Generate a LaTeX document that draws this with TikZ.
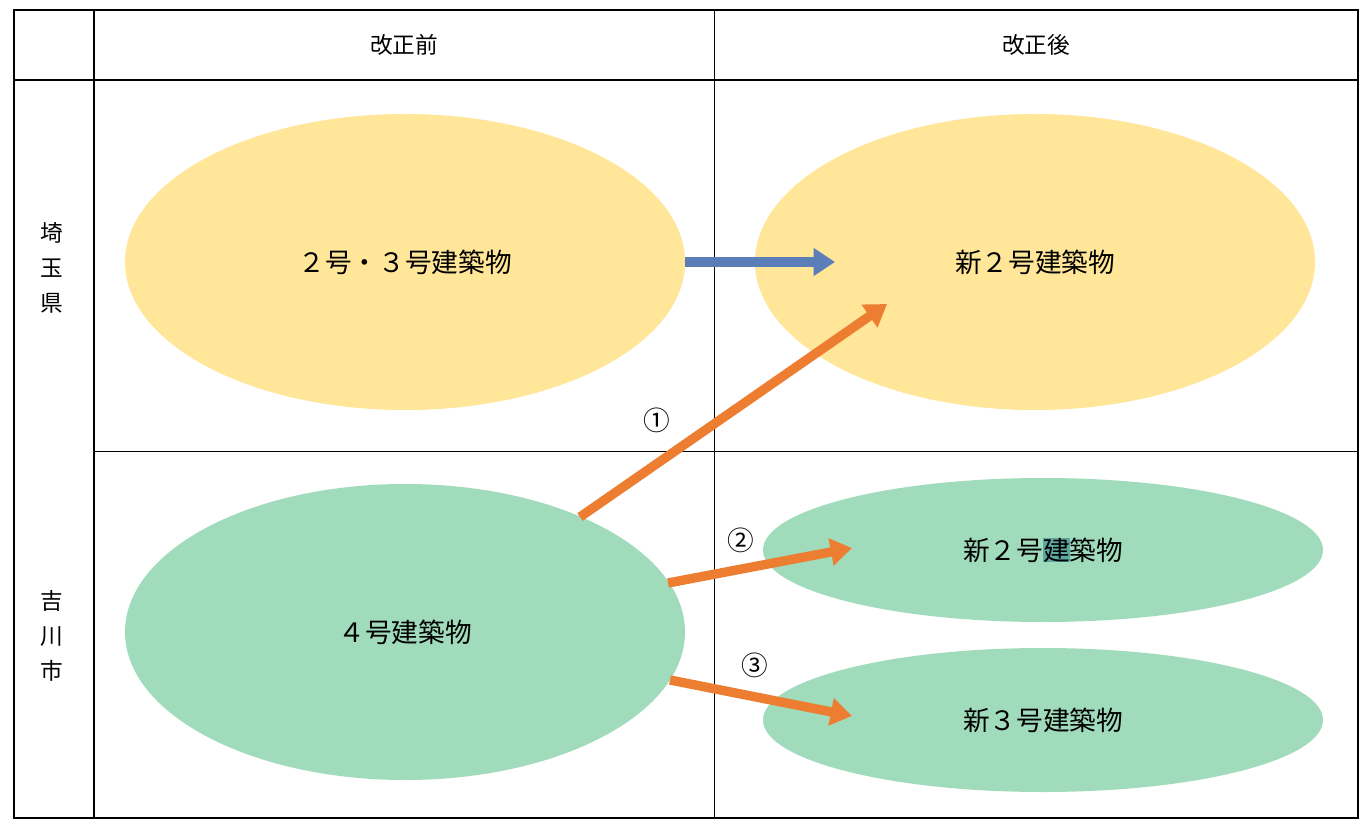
\documentclass[tikz,border=0pt]{standalone}
\usepackage{fontspec}
\setmainfont{Noto Sans CJK JP}
\usetikzlibrary{arrows.meta,shapes.geometric}
\definecolor{yel}{HTML}{FFE699}
\definecolor{grn}{HTML}{A0DCBB}
\definecolor{blu}{HTML}{5B7DB8}
\definecolor{org}{HTML}{ED7D31}
\definecolor{hl}{HTML}{5EA8A2}
\begin{document}
\begin{tikzpicture}[x=0.75pt,y=-0.75pt,
  yel/.style={ellipse,fill=yel,minimum width=560*0.75pt,minimum height=296*0.75pt,inner sep=0pt},
  grnbig/.style={ellipse,fill=grn,minimum width=560*0.75pt,minimum height=296*0.75pt,inner sep=0pt},
  grnsm/.style={ellipse,fill=grn,minimum width=560*0.75pt,minimum height=144*0.75pt,inner sep=0pt},
  lbl/.style={font=\fontsize{20}{24}\selectfont},
  hdr/.style={font=\fontsize{17}{20}\selectfont},
  arr/.style={line width=7pt,-{Triangle[length=16pt,width=20pt]}}]
\useasboundingbox (0,0) rectangle (1370,830);
\fill[white] (0,0) rectangle (1370,830);
\node[yel] (a) at (405,262) {}; \node[lbl] at (a) {２号・３号建築物};
\node[yel] (b) at (1035,262) {}; \node[lbl] at (b) {新２号建築物};
\node[grnbig] (c) at (405,632) {}; \node[lbl] at (c) {４号建築物};
\node[grnsm] (d) at (1043,550) {}; \node[lbl] at (d) {新２号{\setlength\fboxsep{0pt}\colorbox{hl}{建}}築物};
\node[grnsm] (e) at (1043,720) {}; \node[lbl] at (e) {新３号建築物};
% grid
\draw[line width=0.6pt] (714,10) -- (714,818);
\draw[line width=0.6pt] (94,451) -- (1358,451);
\draw[line width=2.2pt] (94,10) -- (94,818);
\draw[line width=2.2pt] (14,80) -- (1358,80);
\draw[line width=2.2pt] (14,10) rectangle (1358,818);
\node[hdr] at (404,45) {改正前};
\node[hdr] at (1036,45) {改正後};
\node[hdr,align=center,font=\fontsize{17}{26}\selectfont] at (52,268) {埼\\玉\\県};
\node[hdr,align=center,font=\fontsize{17}{26}\selectfont] at (52,636) {吉\\川\\市};
% arrows
\coordinate (bt) at (835,262);
\draw[arr,blu] (685,262) -- (bt);
\coordinate (s1) at (580,517); \coordinate (t1) at (887,304);
\coordinate (s2) at (668,583); \coordinate (t2) at (852,548);
\coordinate (s3) at (670,680); \coordinate (t3) at (852,716);
\draw[arr,org] (s1) -- (t1);
\draw[arr,org] (s2) -- (t2);
\draw[arr,org] (s3) -- (t3);
\node[lbl] at (657,420) {①};
\node[lbl] at (741,540) {②};
\node[lbl] at (755,665) {③};
\end{tikzpicture}
\end{document}
